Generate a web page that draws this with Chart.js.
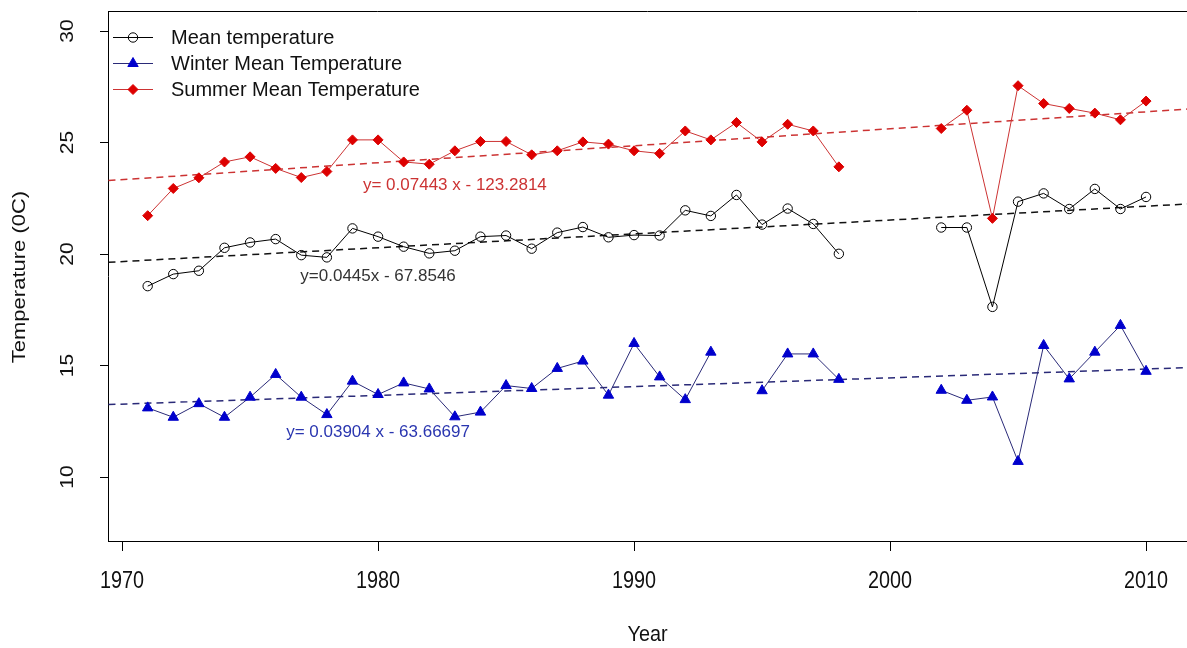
<!DOCTYPE html>
<html><head><meta charset="utf-8">
<script src="https://cdn.jsdelivr.net/npm/chart.js@4"></script>
<style>html,body{margin:0;padding:0;background:#fff}canvas{display:block}</style>
</head><body>
<canvas id="c" width="1187" height="648"></canvas>
<script>
const years = [1971,1972,1973,1974,1975,1976,1977,1978,1979,1980,1981,1982,1983,1984,1985,1986,1987,1988,1989,1990,1991,1992,1993,1994,1995,1996,1997,1998,1999,2000,2001,2002,2003,2004,2005,2006,2007,2008,2009,2010];
const meanTemp = [18.56,19.10,19.25,20.28,20.52,20.67,19.95,19.85,21.15,20.78,20.33,20.03,20.15,20.78,20.83,20.24,20.96,21.21,20.75,20.85,20.83,21.96,21.71,22.65,21.32,22.04,21.35,20.01,null,null,null,21.19,21.19,17.63,22.35,22.72,22.02,22.92,22.02,22.56];
const winterTemp = [13.10,12.68,13.29,12.68,13.58,14.60,13.58,12.80,14.30,13.70,14.22,13.95,12.70,12.91,14.10,13.97,14.87,15.20,13.67,15.99,14.49,13.47,15.60,null,13.87,15.52,15.52,14.38,null,null,null,13.89,13.44,13.59,10.70,15.90,14.40,15.60,16.80,14.74];
const summerTemp = [21.72,22.94,23.42,24.13,24.36,23.84,23.43,23.70,25.12,25.12,24.13,24.03,24.63,25.05,25.05,24.45,24.63,25.03,24.93,24.63,24.51,25.52,25.12,25.90,25.03,25.82,25.52,23.91,null,null,null,25.63,26.45,21.60,27.55,26.75,26.53,26.32,26.02,26.86];
const trendYears = [1969, 2012];
const meanTrend = [19.60, 22.27];
const winterTrend = [13.23, 14.92];
const summerTrend = [23.26, 26.53];
const xTicks = [1970,1980,1990,2000,2010];
const yTicks = [10,15,20,25,30];
const eqLabels = [
  {text:'y= 0.07443 x - 123.2814', x:1983.0, y:23.1, color:'#cc3333'},
  {text:'y=0.0445x - 67.8546', x:1980.0, y:19.0, color:'#333333'},
  {text:'y= 0.03904 x - 63.66697', x:1980.0, y:12.0, color:'#2a36b0'}
];
const seriesNames = ['Mean temperature','Winter Mean Temperature','Summer Mean Temperature'];

const pts = arr => years.map((y,i)=>({x:y,y:arr[i]}));
const tpts = arr => trendYears.map((y,i)=>({x:y,y:arr[i]}));
const FONT = '"Liberation Sans", Arial, sans-serif';

function hText(ctx, txt, x, y, size, sx){
  ctx.save(); ctx.translate(x,y); ctx.scale(sx,1);
  ctx.font = size+'px '+FONT; ctx.fillText(txt,0,0); ctx.restore();
}
function vText(ctx, txt, x, y, size, sy){
  ctx.save(); ctx.translate(x,y); ctx.rotate(-Math.PI/2); ctx.scale(1,sy);
  ctx.font = size+'px '+FONT; ctx.fillText(txt,0,0); ctx.restore();
}

const deco = {
  id:'deco',
  afterDraw(chart){
    const ctx = chart.ctx, ca = chart.chartArea;
    const xs = chart.scales.x, ys = chart.scales.y;
    ctx.save();
    ctx.strokeStyle='#000'; ctx.lineWidth=1;
    ctx.beginPath(); ctx.moveTo(ca.left, ca.top+0.5); ctx.lineTo(ca.right, ca.top+0.5); ctx.stroke();
    ctx.fillStyle='#111'; ctx.textAlign='center'; ctx.textBaseline='middle';
    xTicks.forEach(v=>hText(ctx, String(v), xs.getPixelForValue(v), 582, 23, 0.86));
    yTicks.forEach(v=>vText(ctx, String(v), 68, ys.getPixelForValue(v), 21, 0.85));
    hText(ctx, 'Year', (ca.left+ca.right)/2, 635, 22, 0.9);
    vText(ctx, 'Temperature (0C)', 20, 277, 22, 0.85);
    ctx.font='17px '+FONT;
    eqLabels.forEach(l=>{ ctx.fillStyle=l.color; ctx.fillText(l.text, xs.getPixelForValue(l.x), ys.getPixelForValue(l.y)); });
    const rows=[37,63,89];
    ctx.textAlign='left';
    [0,1,2].forEach(i=>{
      const ds = chart.data.datasets[i];
      const y = rows[i];
      ctx.strokeStyle=ds.borderColor; ctx.lineWidth=1;
      ctx.beginPath(); ctx.moveTo(113,y+0.5); ctx.lineTo(153,y+0.5); ctx.stroke();
      ctx.fillStyle=ds.pointBackgroundColor; ctx.strokeStyle=ds.pointBorderColor; ctx.lineWidth=1;
      Chart.helpers.drawPoint(ctx,{pointStyle:ds.pointStyle,radius:ds.pointRadius,rotation:0,borderWidth:1},133,y+0.5);
      ctx.fillStyle='#111'; ctx.font='20px '+FONT; ctx.fillText(ds.label,171,y+1);
    });
    ctx.restore();
  }
};

new Chart(document.getElementById('c'),{
  type:'line',
  data:{datasets:[
    {label:seriesNames[0],data:pts(meanTemp),borderColor:'#000',borderWidth:1,pointStyle:'circle',pointRadius:4.7,pointBackgroundColor:'rgba(255,255,255,0)',pointBorderColor:'#000',pointBorderWidth:1,spanGaps:false,tension:0},
    {label:seriesNames[1],data:pts(winterTemp),borderColor:'#2a2a78',borderWidth:1,pointStyle:'triangle',pointRadius:6,pointBackgroundColor:'#0000cc',pointBorderColor:'#0000cc',pointBorderWidth:1,spanGaps:false,tension:0},
    {label:seriesNames[2],data:pts(summerTemp),borderColor:'#cc3333',borderWidth:1,pointStyle:'rectRot',pointRadius:5,pointBackgroundColor:'#dd0000',pointBorderColor:'#dd0000',pointBorderWidth:1,spanGaps:false,tension:0},
    {label:'mt',data:tpts(meanTrend),borderColor:'#111',borderWidth:1.5,borderDash:[7,5],pointRadius:0},
    {label:'wt',data:tpts(winterTrend),borderColor:'#2a2a78',borderWidth:1.5,borderDash:[7,5],pointRadius:0},
    {label:'st',data:tpts(summerTrend),borderColor:'#cc3333',borderWidth:1.5,borderDash:[7,5],pointRadius:0}
  ]},
  options:{
    responsive:false,animation:false,
    layout:{autoPadding:false,padding:{top:11,right:0,left:0,bottom:0}},
    plugins:{legend:{display:false},tooltip:{enabled:false}},
    scales:{
      x:{type:'linear',min:1969.45,max:2011.6,
        afterBuildTicks:s=>{s.ticks=xTicks.map(v=>({value:v}));},
        afterFit:s=>{s.height=107;},
        ticks:{display:false},
        grid:{drawOnChartArea:false,drawTicks:true,tickLength:10,color:'#000',lineWidth:1},
        border:{display:true,color:'#000',width:1}},
      y:{type:'linear',min:7.13,max:30.9,
        afterBuildTicks:s=>{s.ticks=yTicks.map(v=>({value:v}));},
        afterFit:s=>{s.width=108;},
        ticks:{display:false},
        grid:{drawOnChartArea:false,drawTicks:true,tickLength:8,color:'#000',lineWidth:1},
        border:{display:true,color:'#000',width:1}}
    }
  },
  plugins:[deco]
});
</script>
</body></html>
